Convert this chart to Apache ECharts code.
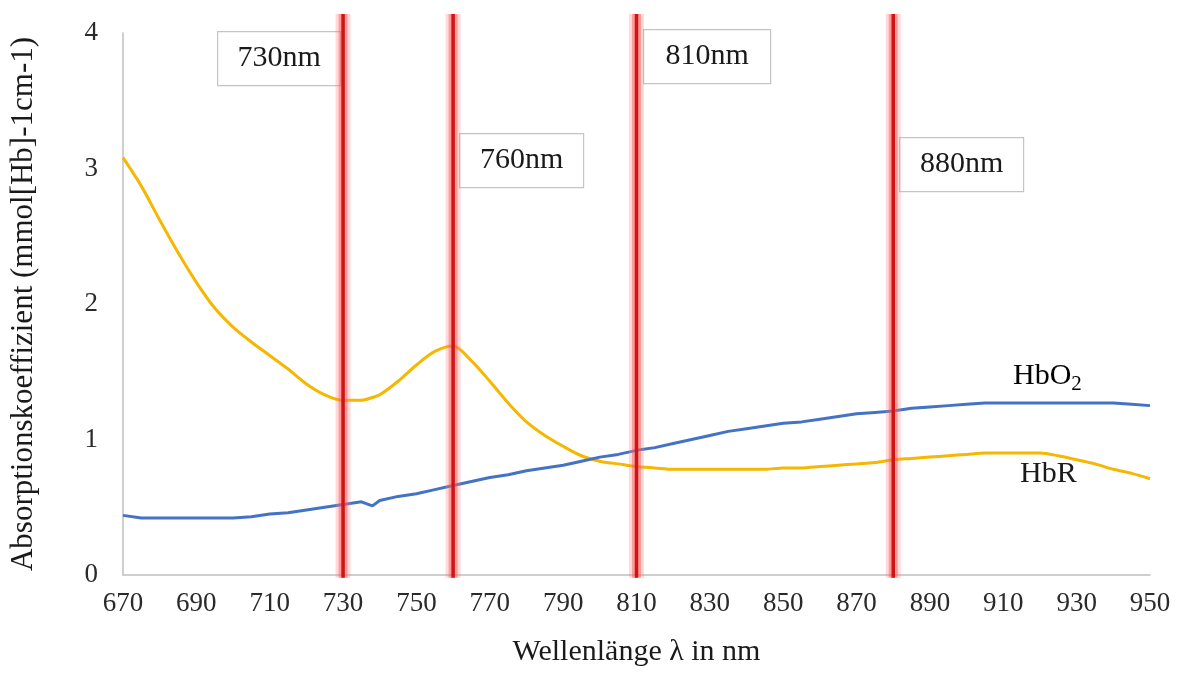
<!DOCTYPE html>
<html>
<head>
<meta charset="utf-8">
<script src="https://cdn.jsdelivr.net/npm/echarts@6/dist/echarts.min.js"></script>
<style>
html,body{margin:0;padding:0;background:#fff;}
#chart{width:1178px;height:674px;}
</style>
</head>
<body>
<div id="chart"></div>
<script>
// ---- data ----
var wavelengths = [670,675,680,685,690,695,700,705,710,715,720,725,730,735,738,740,745,750,755,760,765,770,775,780,785,790,795,800,805,810,815,820,825,830,835,840,845,850,855,860,865,870,875,880,885,890,895,900,905,910,915,920,925,930,935,940,945,950];
var hbR  = [3.08,2.87,2.62,2.38,2.16,1.97,1.83,1.72,1.62,1.52,1.41,1.33,1.29,1.29,1.31,1.33,1.43,1.55,1.65,1.69,1.58,1.43,1.27,1.13,1.03,0.95,0.88,0.84,0.82,0.80,0.79,0.78,0.78,0.78,0.78,0.78,0.78,0.79,0.79,0.80,0.81,0.82,0.83,0.85,0.86,0.87,0.88,0.89,0.90,0.90,0.90,0.90,0.88,0.85,0.82,0.78,0.75,0.71];
var hbO2 = [0.44,0.42,0.42,0.42,0.42,0.42,0.42,0.43,0.45,0.46,0.48,0.50,0.52,0.54,0.51,0.55,0.58,0.60,0.63,0.66,0.69,0.72,0.74,0.77,0.79,0.81,0.84,0.87,0.89,0.92,0.94,0.97,1.00,1.03,1.06,1.08,1.10,1.12,1.13,1.15,1.17,1.19,1.20,1.21,1.23,1.24,1.25,1.26,1.27,1.27,1.27,1.27,1.27,1.27,1.27,1.27,1.26,1.25];
var redLines = [730, 760, 810, 880];
var seriesNames = ['HbR', 'HbO2'];
var xTitle = 'Wellenlänge λ in nm';
var yTitle = 'Absorptionskoeffizient (mmol[Hb]-1cm-1)';

var FONT = 'Liberation Serif';
var chart = echarts.init(document.getElementById('chart'), null, {renderer: 'canvas'});

function pairs(ys){ return wavelengths.map(function(x,i){ return [x, ys[i]]; }); }

// label boxes (layout, pixel positions)
var boxLayout = [
  {x:217, y:31, w:123, h:54},
  {x:459, y:133, w:124, h:54},
  {x:643, y:29, w:127, h:54},
  {x:899, y:137, w:124, h:54}
];
var graphics = [];
redLines.forEach(function(v, i){
  var b = boxLayout[i];
  graphics.push({
    type:'group', left:b.x, top:b.y, z:100,
    children:[
      {type:'rect', shape:{x:0,y:0,width:b.w,height:b.h}, style:{fill:'#fff', stroke:'#c4c4c4', lineWidth:1.2}},
      {type:'text', x:b.w/2, y:b.h/2, style:{text:v+'nm', fill:'#1a1a1a', font:'30px "'+FONT+'"', textAlign:'center', textVerticalAlign:'middle'}}
    ]
  });
});
graphics.push({
  type:'text', left:1013, top:361, z:100,
  style:{text:'{a|HbO}{s|2}', rich:{a:{fontFamily:FONT, fontSize:30, color:'#1a1a1a'}, s:{fontFamily:FONT, fontSize:21, color:'#1a1a1a', padding:[16,0,0,0]}}}
});
graphics.push({
  type:'text', left:1020, top:459, z:100,
  style:{text:'HbR', fill:'#1a1a1a', font:'30px "'+FONT+'"'}
});

var option = {
  animation:false,
  backgroundColor:'#fff',
  grid:{left:123, right:28, top:33, bottom:99},
  xAxis:{
    type:'value', min:670, max:950, interval:20,
    name:xTitle, nameLocation:'middle', nameGap:62,
    nameTextStyle:{fontFamily:FONT, fontSize:30, color:'#1a1a1a'},
    axisLine:{show:true, lineStyle:{color:'#bfbfbf', width:1.5}},
    axisTick:{show:false},
    splitLine:{show:false},
    axisLabel:{fontFamily:FONT, fontSize:27, color:'#2a2a2a', margin:15}
  },
  yAxis:{
    type:'value', min:0, max:4, interval:1,
    name:yTitle, nameLocation:'middle', nameGap:84, nameRotate:90,
    nameTextStyle:{fontFamily:FONT, fontSize:31, color:'#1a1a1a'},
    axisLine:{show:true, lineStyle:{color:'#bfbfbf', width:1.5}},
    axisTick:{show:false},
    splitLine:{show:false},
    axisLabel:{fontFamily:FONT, fontSize:27, color:'#2a2a2a', margin:25}
  },
  series:[
    {name:seriesNames[0], type:'line', data:pairs(hbR), showSymbol:false, smooth:0.3,
     lineStyle:{color:'#F5B700', width:3}, z:2},
    {name:seriesNames[1], type:'line', data:pairs(hbO2), showSymbol:false,
     lineStyle:{color:'#4472C4', width:3}, z:2},
    {type:'custom', data:redLines.map(function(v){return [v, 0];}), clip:false, z:5,
     renderItem:function(params, api){
       var x = api.value(0);
       var t = api.coord([x, 4.14]);
       var b = api.coord([x, -0.02]);
       var sh = {x1:t[0], y1:t[1], x2:b[0], y2:b[1]};
       return {type:'group', children:[
         {type:'line', shape:sh, style:{stroke:'rgba(255,130,130,0.3)', lineWidth:15}},
         {type:'line', shape:sh, style:{stroke:'rgba(255,80,80,0.45)', lineWidth:9}},
         {type:'line', shape:sh, style:{stroke:'#cc1515', lineWidth:3.5}}
       ]};
     }}
  ],
  graphic:graphics
};
chart.setOption(option);
</script>
</body>
</html>
